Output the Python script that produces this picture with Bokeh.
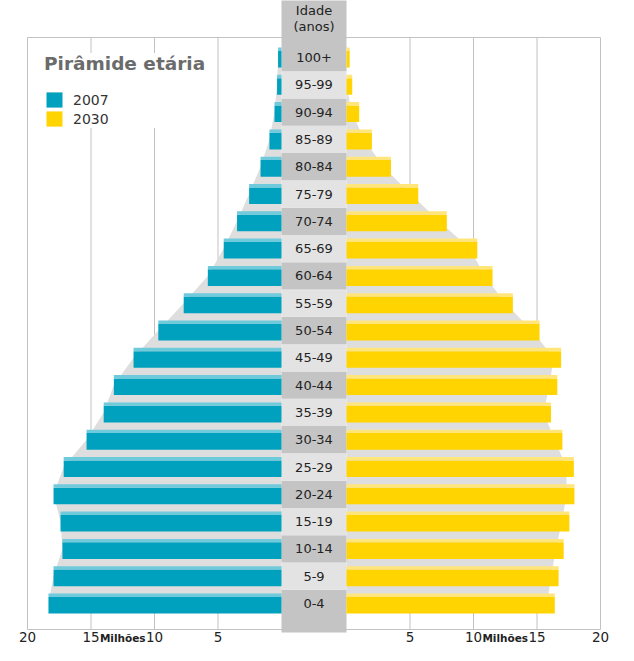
import numpy as np
from bokeh.plotting import figure
from bokeh.models import Range1d, Legend, LegendItem, ColumnDataSource
from bokeh.core.properties import value
from bokeh.embed import file_html
from bokeh.resources import INLINE

# ---------------- data ----------------
ages = ["0-4", "5-9", "10-14", "15-19", "20-24", "25-29", "30-34", "35-39",
        "40-44", "45-49", "50-54", "55-59", "60-64", "65-69", "70-74",
        "75-79", "80-84", "85-89", "90-94", "95-99", "100+"]
v2007 = [18.35, 17.95, 17.25, 17.4, 17.95, 17.15, 15.35, 14.0, 13.2, 11.65,
         9.7, 7.7, 5.8, 4.55, 3.5, 2.55, 1.65, 0.95, 0.55, 0.35, 0.27]
v2030 = [16.4, 16.7, 17.1, 17.55, 17.95, 17.9, 17.0, 16.1, 16.6, 16.9,
         15.2, 13.1, 11.5, 10.3, 7.9, 5.65, 3.5, 2.0, 1.0, 0.45, 0.25]
tick_values = [20, 15, 10, 5]
series = ["2007", "2030"]
title_text = "Pirâmide etária"
header = ["Idade", "(anos)"]
unit = "Milhões"

# ---------------- geometry / style ----------------
W, H = 618, 645
PX = 12.7            # pixels per million
ROW = 27.3           # pixels per age group
CX = 313.5           # centre of the age column (px)
Y0 = 603             # pixel row of the first age group
G = 65 / 2 / PX      # half width of central column (in millions)
FONT = value("DejaVu Sans")
TEAL, TEAL_TOP = "#00a1be", "#6fcadb"
YEL, YEL_TOP = "#ffd400", "#ffe57a"
GRID = "#c2c2c2"
TXT = "#222222"


def ypx(py):
    """pixel row -> data y"""
    return (Y0 - py) / ROW


n = len(ages)
idx = np.arange(n)

p = figure(width=W, height=H, output_backend="svg", toolbar_location=None,
           x_range=Range1d(-CX / PX, (W - CX) / PX),
           y_range=Range1d(ypx(H), ypx(0)),
           x_axis_location=None, y_axis_location=None,
           min_border=0)
p.outline_line_color = None
p.xgrid.visible = False
p.ygrid.visible = False
p.background_fill_color = "white"
p.border_fill_color = "white"

y_top_line = ypx(37)
y_bot_line = ypx(629)

# gridlines + frame
gx = [-(G + t) for t in tick_values] + [G + t for t in tick_values]
p.segment(x0=gx, x1=gx, y0=[y_bot_line] * len(gx), y1=[y_top_line] * len(gx),
          line_color=GRID, line_width=1)
p.segment(x0=[-(G + 20), -(G + 20)], x1=[G + 20, G + 20],
          y0=[y_top_line, y_bot_line], y1=[y_top_line, y_bot_line],
          line_color=GRID, line_width=1)

# light grey pyramid shadow
lx = [-G] + [-(G + v) for v in v2007] + [-G]
ly = [0] + list(idx) + [n - 1]
p.patch(lx, ly, fill_color="#dedede", line_color=None)
rx = [G] + [G + max(v - 0.6, 0) for v in v2030] + [G]
p.patch(rx, ly, fill_color="#dedede", line_color=None)

# central column
band_bottom = np.where(idx == 0, ypx(632), idx - 0.5)
band_top = np.where(idx == n - 1, ypx(-5), idx + 0.5)
band_col = ["#c4c4c4" if i % 2 == 0 else "#e3e3e3" for i in idx]
p.quad(left=-G, right=G, bottom=band_bottom, top=band_top,
       fill_color=band_col, line_color=None)

# bars
H_LO, H_MID, H_HI = 10 / ROW, 6.6 / ROW, 10 / ROW
src = ColumnDataSource(dict(
    y=idx,
    l07=[-(G + v) for v in v2007], r07=[-G] * n,
    l30=[G] * n, r30=[G + v for v in v2030],
    b=idx - H_LO, m=idx + H_MID, t=idx + H_HI,
))
r07 = p.quad(left="l07", right="r07", bottom="b", top="m", source=src,
             fill_color=TEAL, line_color=None)
p.quad(left="l07", right="r07", bottom="m", top="t", source=src,
       fill_color=TEAL_TOP, line_color=None)
r30 = p.quad(left="l30", right="r30", bottom="b", top="m", source=src,
             fill_color=YEL, line_color=None)
p.quad(left="l30", right="r30", bottom="m", top="t", source=src,
       fill_color=YEL_TOP, line_color=None)

# age labels
p.text(x=0, y=idx, text=ages, text_align="center", text_baseline="middle",
       text_font=FONT, text_font_size="13px", text_color=TXT)
p.text(x=[0, 0], y=[ypx(9.5), ypx(25.5)], text=header, text_align="center",
       text_baseline="middle", text_font=FONT, text_font_size="13px",
       text_color=TXT)

# x tick labels (both halves) and unit labels
p.text(x=gx, y=[ypx(636)] * len(gx),
       text=[str(t) for t in tick_values] * 2,
       text_align="center", text_baseline="middle", text_font=FONT,
       text_font_size="13.5px", text_color=TXT)
p.text(x=[-(G + 12.5), G + 12.5], y=[ypx(637.5)] * 2, text=[unit, unit],
       text_align="center", text_baseline="middle", text_font=FONT,
       text_font_style="bold", text_font_size="10.5px", text_color=TXT)

# legend
legend = Legend(items=[LegendItem(label=series[0], renderers=[r07]),
                       LegendItem(label=series[1], renderers=[r30])],
                title=title_text, location=(44, 517),
                title_text_font="DejaVu Sans", title_text_font_style="bold",
                title_text_font_size="18.5px", title_text_color="#6b6b6b",
                title_standoff=16,
                label_text_font="DejaVu Sans", label_text_font_size="14px",
                label_text_color="#333333",
                glyph_width=20, glyph_height=19, label_height=17,
                label_standoff=9, spacing=0, padding=6, margin=0,
                background_fill_color="white", background_fill_alpha=1.0,
                border_line_color=None)
p.add_layout(legend)

open("out.html", "w").write(file_html(p, INLINE))
